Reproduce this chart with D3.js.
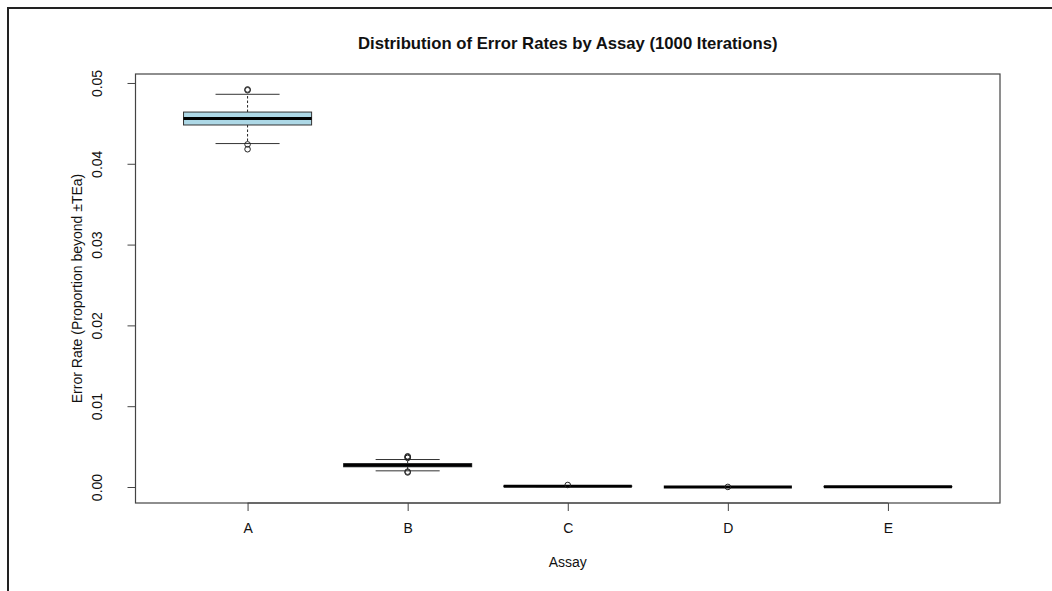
<!DOCTYPE html>
<html><head><meta charset="utf-8">
<script src="https://cdn.jsdelivr.net/npm/d3@7"></script>
<style>body{margin:0;background:#fff;} svg{display:block;font-family:"Liberation Sans",Arial,sans-serif;}</style>
</head><body>
<script>
const categories = ["A","B","C","D","E"];
const whiskerLow  = [0.0425, 0.0020, 0.00005, 0.0, 0.00002];
const q1          = [0.0448, 0.0025, 0.00008, 0.0, 0.00003];
const median      = [0.0456, 0.0027, 0.00010, 0.0, 0.00004];
const q3          = [0.0464, 0.0029, 0.00012, 0.0, 0.00005];
const whiskerHigh = [0.0486, 0.0034, 0.00015, 0.0, 0.00006];
const outliers    = [[0.0492, 0.0491, 0.0424, 0.0418], [0.0038, 0.0037, 0.0036, 0.0019, 0.0018], [0.00025], [0.00001], []];
const yTicks = [0, 0.01, 0.02, 0.03, 0.04, 0.05];

const W = 1052, H = 591;
const L = 135.5, R = 1000, T = 74, B = 503;
const svg = d3.select("body").append("svg").attr("width", W).attr("height", H);

// outer frame
svg.append("path").attr("d", `M8,${H} L8,8 L${W},8`).attr("fill","none").attr("stroke","#222").attr("stroke-width",2);

const x = d3.scaleLinear().domain([0.5 - 0.2, 5.5 + 0.2]).range([L, R]);
const y = d3.scaleLinear().domain([-0.00198, 0.05111]).range([B, T]);

// plot box
svg.append("rect").attr("x", L).attr("y", T).attr("width", R - L).attr("height", B - T)
  .attr("fill","none").attr("stroke","#444").attr("stroke-width",1.2);

// y axis
const yAx = svg.append("g").attr("transform", `translate(${L},0)`)
  .call(d3.axisLeft(y).tickValues(yTicks).tickSize(8).tickFormat(d3.format(".2f")));
yAx.select(".domain").attr("d", `M${-0},${y(0)}V${y(0.05)}`).attr("stroke","#444");
yAx.selectAll(".tick line").attr("stroke","#444");
yAx.selectAll(".tick text").attr("transform","rotate(-90)").attr("x",0).attr("y",-38)
  .attr("dy","0.35em").attr("text-anchor","middle").attr("font-size",14).attr("fill","#111")
  .attr("font-family","Liberation Sans, Arial, sans-serif");

// x axis
const xAx = svg.append("g").attr("transform", `translate(0,${B})`)
  .call(d3.axisBottom(x).tickValues([1,2,3,4,5]).tickSize(8).tickFormat((d,i)=>categories[i]));
xAx.select(".domain").attr("d", `M${x(1)},0H${x(5)}`).attr("stroke","#444");
xAx.selectAll(".tick line").attr("stroke","#444");
xAx.selectAll(".tick text").attr("y", 25).attr("dy","0.35em").attr("font-size",14).attr("fill","#111")
  .attr("font-family","Liberation Sans, Arial, sans-serif");

// boxes
const bw = 0.8, sw = 0.4;
categories.forEach((c, i) => {
  const cx = i + 1;
  const g = svg.append("g");
  g.append("line").attr("x1", x(cx)).attr("x2", x(cx)).attr("y1", y(q3[i])).attr("y2", y(whiskerHigh[i]))
    .attr("stroke","#222").attr("stroke-dasharray","2.5,2");
  g.append("line").attr("x1", x(cx)).attr("x2", x(cx)).attr("y1", y(q1[i])).attr("y2", y(whiskerLow[i]))
    .attr("stroke","#222").attr("stroke-dasharray","2.5,2");
  [whiskerHigh[i], whiskerLow[i]].forEach(v => {
    g.append("line").attr("x1", x(cx - sw/2)).attr("x2", x(cx + sw/2)).attr("y1", y(v)).attr("y2", y(v))
      .attr("stroke","#333").attr("stroke-width",1);
  });
  g.append("rect").attr("x", x(cx - bw/2)).attr("width", x(cx + bw/2) - x(cx - bw/2))
    .attr("y", y(q3[i])).attr("height", Math.max(0, y(q1[i]) - y(q3[i])))
    .attr("fill","#ADD8E6").attr("stroke","#333").attr("stroke-width",1);
  g.append("line").attr("x1", x(cx - bw/2)).attr("x2", x(cx + bw/2)).attr("y1", y(median[i])).attr("y2", y(median[i]))
    .attr("stroke","#000").attr("stroke-width",3);
  outliers[i].forEach(v => {
    g.append("circle").attr("cx", x(cx)).attr("cy", y(v)).attr("r", 2.8)
      .attr("fill","none").attr("stroke","#222").attr("stroke-width",1);
  });
});

// titles
svg.append("text").attr("x", (L + R) / 2).attr("y", 43).attr("dy","0.35em").attr("text-anchor","middle")
  .attr("font-size",16.7).attr("font-weight","bold").attr("fill","#111")
  .text("Distribution of Error Rates by Assay (1000 Iterations)");
svg.append("text").attr("x", (L + R) / 2).attr("y", 562).attr("dy","0.35em").attr("text-anchor","middle")
  .attr("font-size",14).attr("fill","#111").text("Assay");
svg.append("text").attr("transform", `translate(77,${(T + B) / 2}) rotate(-90)`).attr("dy","0.35em")
  .attr("text-anchor","middle").attr("font-size",14).attr("fill","#111")
  .text("Error Rate (Proportion beyond \u00B1TEa)");
</script>
</body></html>
